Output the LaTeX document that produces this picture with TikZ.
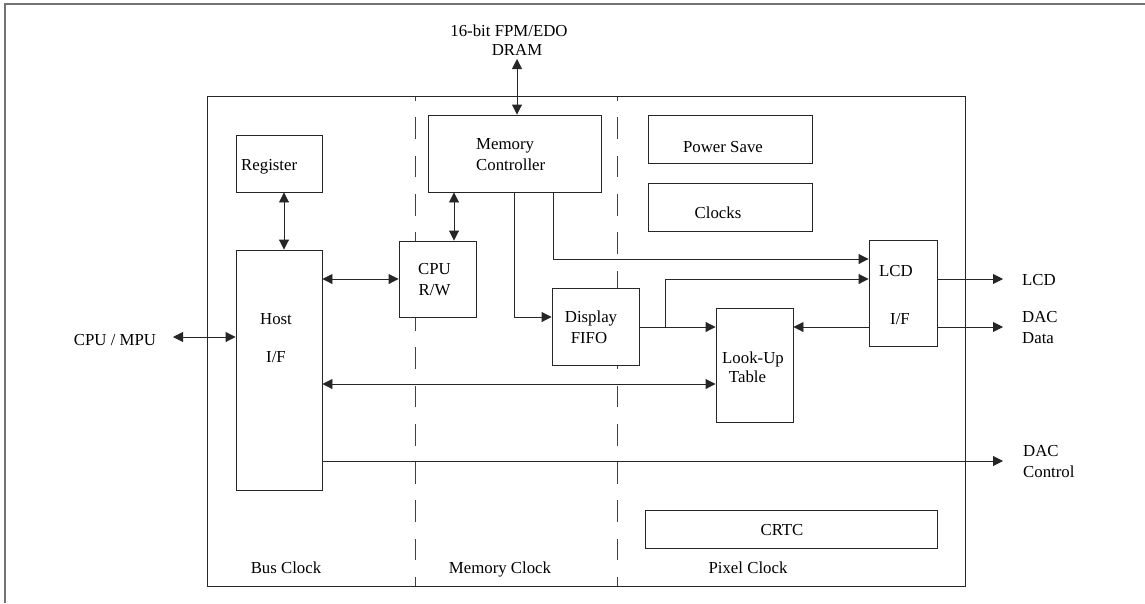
\documentclass[tikz,border=0pt]{standalone}
\usepackage{fontspec}
\setmainfont{Liberation Serif}
\usetikzlibrary{arrows.meta,calc,backgrounds}

\begin{document}
\begin{tikzpicture}[x=1pt,y=-1pt,
  box/.style={draw=black!85, fill=white, line width=0.9pt, inner sep=0pt, rectangle},
  lbl/.style={inner sep=0pt, font=\fontsize{16.8}{19}\selectfont, anchor=base},
  lblw/.style={lbl, anchor=base west},
  wire/.style={draw=black!85, line width=0.9pt},
  tip/.style={-{Triangle[length=10pt,width=10pt]}},
  dbl/.style={{Triangle[length=10pt,width=10pt]}-{Triangle[length=10pt,width=10pt]}},
  clockline/.style={draw=black!75, line width=0.9pt, dash pattern=on 21.7pt off 16.6pt, dash phase=12.7pt}
]
\useasboundingbox (0,0) rectangle (1145,603);

% page frame (left and top edges)
\draw[black!55, line width=1.3pt] (5,603) -- (5,4) -- (1145,4);

% chip outline
\node[box, fill=none, minimum width=758pt, minimum height=490pt] (chip) at (586,341) {};

% functional blocks
\node[box, minimum width=86pt,  minimum height=57pt]  (reg)  at (279,163.5) {};
\node[box, minimum width=86pt,  minimum height=240pt] (host) at (279,370) {};
\node[box, minimum width=173pt, minimum height=77pt]  (mc)   at (514.5,153.5) {};
\node[box, minimum width=77pt,  minimum height=76pt]  (cpu)  at (437.5,279) {};
\node[box, minimum width=87pt,  minimum height=77pt]  (fifo) at (595.5,326.5) {};
\node[box, minimum width=77pt,  minimum height=114pt] (lut)  at (754.5,365) {};
\node[box, minimum width=68pt,  minimum height=106pt] (lcd)  at (903,293) {};
\node[box, minimum width=164pt, minimum height=48pt]  (ps)   at (730,139) {};
\node[box, minimum width=164pt, minimum height=48pt]  (clk)  at (730,207) {};
\node[box, minimum width=292pt, minimum height=38pt]  (crtc) at (791,529) {};

% clock domain boundaries
\begin{scope}[on background layer]
  \draw[clockline] (415,586) -- (415,96);
  \draw[clockline] (617,586) -- (617,96);
\end{scope}

% block labels
\node[lbl]  (tdram1) at (509,36) {16-bit FPM/EDO};
\node[lbl]  (tdram2) at (517,55) {DRAM};
\node[lblw] (treg)   at (241,170) {Register};
\node[lblw] (tmc1)   at (476,149) {Memory};
\node[lblw] (tmc2)   at (476,170) {Controller};
\node[lbl]  (tps)    at (723,152) {Power Save};
\node[lbl]  (tclk)   at (718,218) {Clocks};
\node[lbl]  (thost1) at (276,324) {Host};
\node[lbl]  (thost2) at (276,362) {I/F};
\node[lbl]  (tcpu1)  at (434.5,274) {CPU};
\node[lbl]  (tcpu2)  at (434.5,295) {R/W};
\node[lbl]  (tfifo1) at (591,322) {Display};
\node[lbl]  (tfifo2) at (589,343) {FIFO};
\node[lbl]  (tlut1)  at (753,363) {Look-Up};
\node[lbl]  (tlut2)  at (747.5,382) {Table};
\node[lbl]  (tlcd1)  at (896,276) {LCD};
\node[lbl]  (tlcd2)  at (900,324) {I/F};
\node[lbl]  (tcrtc)  at (782,535) {CRTC};
\node[lbl]  (tmpu)   at (115,345) {CPU / MPU};
\node[lblw] (olcd)   at (1022,285) {LCD};
\node[lblw] (odd1)   at (1022,322) {DAC};
\node[lblw] (odd2)   at (1022,343) {Data};
\node[lblw] (odc1)   at (1023,456) {DAC};
\node[lblw] (odc2)   at (1023,477) {Control};
\node[lbl]  (dbus)   at (286,573) {Bus Clock};
\node[lbl]  (dmem)   at (500,573) {Memory Clock};
\node[lbl]  (dpix)   at (748,573) {Pixel Clock};

% connector guide points
\coordinate (dramend) at (517,59);
\coordinate (mpuend)  at (173,337);
\coordinate (gx284)   at (284,0);
\coordinate (gx454)   at (454,0);
\coordinate (gx514)   at (514,0);
\coordinate (gx553)   at (553,0);
\coordinate (gy259)   at (0,259);
\coordinate (gy279)   at (0,279);
\coordinate (gy317)   at (0,317);
\coordinate (gy327)   at (0,327);
\coordinate (gy384)   at (0,384);
\coordinate (split)   at (665,327);
\coordinate (outlcd)  at (1003,279);
\coordinate (outdd)   at (1003,327);
\coordinate (outdc)   at (1003,461);

% connectors
\draw[wire, dbl] (dramend) -- (mc.north -| dramend);
\draw[wire, dbl] (reg.south -| gx284) -- (host.north -| gx284);
\draw[wire, dbl] (mc.south -| gx454) -- (cpu.north -| gx454);
\draw[wire, dbl] (host.east |- gy279) -- (cpu.west |- gy279);
\draw[wire, dbl] (mpuend) -- (host.west |- mpuend);
\draw[wire, dbl] (host.east |- gy384) -- (lut.west |- gy384);
\draw[wire, tip] (host.east |- outdc) -- (outdc);
\draw[wire, tip] (mc.south -| gx514) |- (fifo.west |- gy317);
\draw[wire, tip] (mc.south -| gx553) |- (lcd.west |- gy259);
\draw[wire, tip] (fifo.east |- gy327) -- (lut.west |- gy327);
\draw[wire, tip] (split) |- (lcd.west |- gy279);
\draw[wire, tip] (lcd.west |- gy327) -- (lut.east |- gy327);
\draw[wire, tip] (lcd.east |- outlcd) -- (outlcd);
\draw[wire, tip] (lcd.east |- outdd) -- (outdd);
\end{tikzpicture}
\end{document}
